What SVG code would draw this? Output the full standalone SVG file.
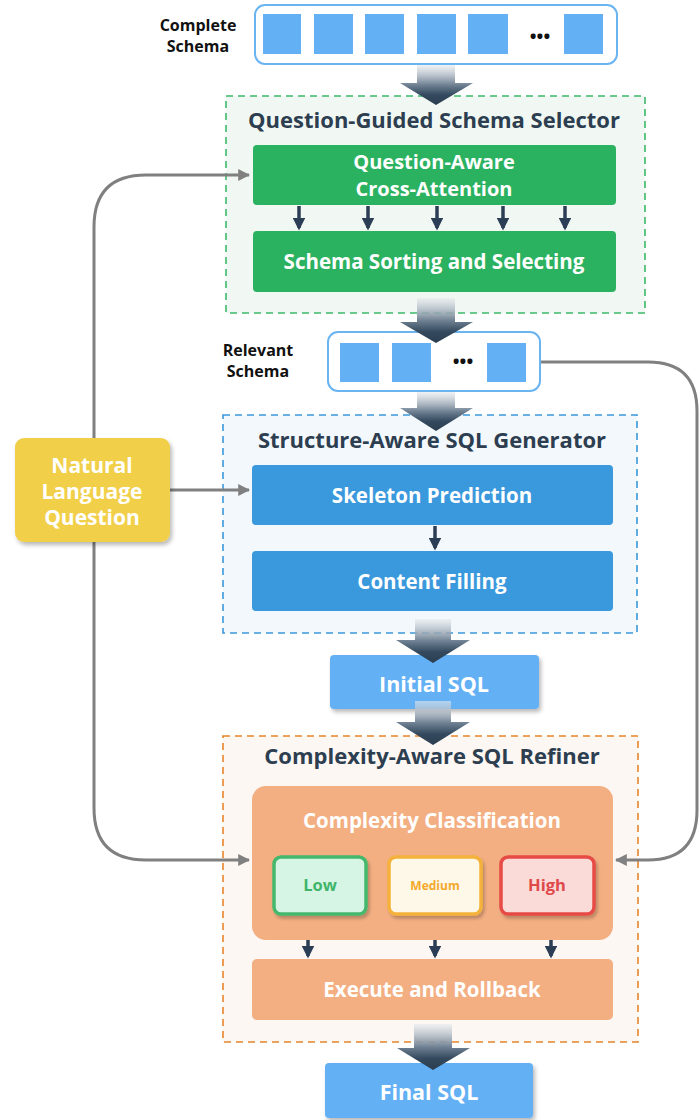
<svg xmlns="http://www.w3.org/2000/svg" width="699" height="1120" viewBox="0 0 699 1120">
  <defs>
    <style>
      text { font-family: "Open Sans", "Noto Sans", "Liberation Sans", sans-serif; font-weight: 700; text-anchor: middle; }
      .title { font-size: 22px; fill: #2c3e50; }
      .label { font-size: 20.5px; fill: #ffffff; }
      .side { font-size: 16px; fill: #111111; }
      .cell { fill: #64b0f5; }
      .strip { fill: #ffffff; stroke: #6ab4f2; stroke-width: 2; }
      .link { fill: none; stroke: #808080; stroke-width: 3; }
      .step { stroke: #2c3e55; stroke-width: 3.5; fill: none; }
      .flow { fill: url(#flowGrad); }
    </style>
    <linearGradient id="flowGrad" x1="0" y1="0" x2="0" y2="1">
      <stop offset="0" stop-color="#e6eaee" stop-opacity="0.6"/>
      <stop offset="0.5" stop-color="#6f8193"/>
      <stop offset="0.75" stop-color="#34495e"/>
      <stop offset="1" stop-color="#2c3e50"/>
    </linearGradient>
    <marker id="grayHead" viewBox="0 0 10 10" refX="9" refY="5" markerWidth="4" markerHeight="4" orient="auto" markerUnits="strokeWidth">
      <path d="M0,0 L10,5 L0,10 z" fill="#808080"/>
    </marker>
    <marker id="darkHead" viewBox="0 0 10 10" refX="8" refY="5" markerWidth="3.6" markerHeight="3.6" orient="auto" markerUnits="strokeWidth">
      <path d="M0,0 L10,5 L0,10 z" fill="#2c3e55"/>
    </marker>
    <filter id="shadow" x="-20%" y="-20%" width="150%" height="160%">
      <feDropShadow dx="2" dy="3" stdDeviation="2" flood-color="#000000" flood-opacity="0.28"/>
    </filter>
    <filter id="softShadow" x="-20%" y="-20%" width="150%" height="160%">
      <feDropShadow dx="2" dy="3" stdDeviation="1.5" flood-color="#000000" flood-opacity="0.22"/>
    </filter>
  </defs>

  <rect width="699" height="1120" fill="#ffffff"/>

  <!-- stage containers -->
  <g id="selector">
    <rect x="226" y="96" width="419" height="217" fill="#f1f8f3" stroke="#3cb96b" stroke-width="1.6" stroke-dasharray="7,5"/>
    <text class="title" x="434" y="128">Question-Guided Schema Selector</text>
  </g>
  <g id="generator">
    <rect x="223" y="415" width="414" height="218" fill="#f3f8fc" stroke="#3a98dc" stroke-width="1.6" stroke-dasharray="7,5"/>
    <text class="title" x="432" y="448">Structure-Aware SQL Generator</text>
  </g>
  <g id="refiner">
    <rect x="223" y="736" width="415" height="306" fill="#fcf7f3" stroke="#e8852a" stroke-width="1.6" stroke-dasharray="7,5"/>
    <text class="title" x="432" y="764">Complexity-Aware SQL Refiner</text>
  </g>

  <!-- connectors -->
  <g id="connectors">
    <!-- question feeds the three stages -->
    <path class="link" d="M94,438 V227 Q94,175 146,175 H249" marker-end="url(#grayHead)"/>
    <path class="link" d="M170,490 H249" marker-end="url(#grayHead)"/>
    <path class="link" d="M94,542 V808 Q94,860 146,860 H249" marker-end="url(#grayHead)"/>
    <!-- relevant schema feeds the refiner -->
    <path class="link" d="M540,362 H648 Q697,362 697,411 V810 Q697,860 648,860 H616" marker-end="url(#grayHead)"/>

    <!-- inner steps -->
    <path class="step" d="M299,206 V228" marker-end="url(#darkHead)"/>
    <path class="step" d="M368,206 V228" marker-end="url(#darkHead)"/>
    <path class="step" d="M437,206 V228" marker-end="url(#darkHead)"/>
    <path class="step" d="M503,206 V228" marker-end="url(#darkHead)"/>
    <path class="step" d="M565,206 V228" marker-end="url(#darkHead)"/>
    <path class="step" d="M435,526 V548" marker-end="url(#darkHead)"/>
    <path class="step" d="M308,933 V956" marker-end="url(#darkHead)"/>
    <path class="step" d="M435,933 V956" marker-end="url(#darkHead)"/>
    <path class="step" d="M551,933 V956" marker-end="url(#darkHead)"/>
  </g>

  <!-- complete schema -->
  <g id="complete-schema">
    <text class="side" x="198" y="31">Complete<tspan x="198" dy="21">Schema</tspan></text>
    <rect class="strip" x="255" y="5" width="362" height="59" rx="10"/>
    <rect class="cell" x="263" y="14" width="38" height="40"/>
    <rect class="cell" x="314" y="14" width="39" height="40"/>
    <rect class="cell" x="365" y="14" width="39" height="40"/>
    <rect class="cell" x="417" y="14" width="39" height="40"/>
    <rect class="cell" x="468" y="14" width="40" height="40"/>
    <text x="540" y="43" style="font-size:18px;fill:#111">•••</text>
    <rect class="cell" x="564" y="14" width="39" height="40"/>
  </g>

  <g id="cross-attention">
    <rect x="253" y="145" width="363" height="60" rx="4" fill="#2bb261"/>
    <text class="label" x="434" y="169" style="font-size:20px">Question-Aware<tspan x="434" dy="26.5">Cross-Attention</tspan></text>
  </g>
  <g id="sorting">
    <rect x="253" y="231" width="363" height="61" rx="4" fill="#2bb261"/>
    <text class="label" x="434" y="269">Schema Sorting and Selecting</text>
  </g>

  <!-- relevant schema -->
  <g id="relevant-schema">
    <text class="side" x="258" y="356">Relevant<tspan x="258" dy="21">Schema</tspan></text>
    <rect class="strip" x="328" y="332" width="212" height="59" rx="10"/>
    <rect class="cell" x="340" y="343" width="39" height="39"/>
    <rect class="cell" x="392" y="343" width="39" height="39"/>
    <text x="463" y="368" style="font-size:18px;fill:#111">•••</text>
    <rect class="cell" x="487" y="343" width="39" height="39"/>
  </g>

  <g id="question">
    <rect x="15" y="438" width="155" height="104" rx="9" fill="#f1cf4a" filter="url(#shadow)"/>
    <text class="label" x="92" y="473" style="font-size:21px">Natural<tspan x="92" dy="26">Language</tspan><tspan x="92" dy="25.5">Question</tspan></text>
  </g>

  <g id="skeleton">
    <rect x="252" y="465" width="361" height="60" rx="4" fill="#3a98dc"/>
    <text class="label" x="432" y="503">Skeleton Prediction</text>
  </g>
  <g id="filling">
    <rect x="252" y="551" width="361" height="60" rx="4" fill="#3a98dc"/>
    <text class="label" x="432" y="589">Content Filling</text>
  </g>

  <g id="initial-sql">
    <rect x="330" y="655" width="209" height="54" rx="4" fill="#64b0f5" filter="url(#shadow)"/>
    <text class="label" x="434" y="692" style="font-size:21.5px">Initial SQL</text>
  </g>

  <g id="classification">
    <rect x="252" y="786" width="361" height="154" rx="14" fill="#f3ae82"/>
    <text class="label" x="432" y="828">Complexity Classification</text>
  </g>
  <g id="low">
    <rect x="274" y="857" width="92" height="57" rx="7" fill="#d6f5e4" stroke="#45b86e" stroke-width="3.5" filter="url(#softShadow)"/>
    <text x="320" y="891" style="font-size:16.5px;fill:#3fb56a">Low</text>
  </g>
  <g id="medium">
    <rect x="389" y="857" width="92" height="57" rx="7" fill="#fef8e8" stroke="#f4b13a" stroke-width="3.5" filter="url(#softShadow)"/>
    <text x="435" y="890" style="font-size:12px;fill:#f3a92c">Medium</text>
  </g>
  <g id="high">
    <rect x="501" y="857" width="93" height="57" rx="7" fill="#fadbd8" stroke="#e64b45" stroke-width="3.5" filter="url(#softShadow)"/>
    <text x="547" y="891" style="font-size:16.5px;fill:#e0494a">High</text>
  </g>
  <g id="rollback">
    <rect x="252" y="959" width="361" height="61" rx="5" fill="#f3ae82"/>
    <text class="label" x="432" y="997">Execute and Rollback</text>
  </g>

  <g id="final-sql">
    <rect x="325" y="1063" width="208" height="55" rx="4" fill="#64b0f5" filter="url(#shadow)"/>
    <text class="label" x="429" y="1100" style="font-size:21.5px">Final SQL</text>
  </g>

  <!-- broad flow arrows between stages -->
  <g id="flow-arrows">
    <path class="flow" d="M417,65 H455 V83 H473 L436,105 L400,83 H417 Z"/>
    <path class="flow" d="M417,298 H455 V322 H473 L436,343 L400,322 H417 Z"/>
    <path class="flow" d="M417,392 H455 V408 H473 L436,431 L400,408 H417 Z"/>
    <path class="flow" d="M415,619 H451 V640 H470 L433,663 L396,640 H415 Z"/>
    <path class="flow" d="M415,701 H451 V722 H470 L433,745 L396,722 H415 Z"/>
    <path class="flow" d="M414,1024 H452 V1048 H470 L433,1070 L397,1048 H414 Z"/>
  </g>
</svg>
